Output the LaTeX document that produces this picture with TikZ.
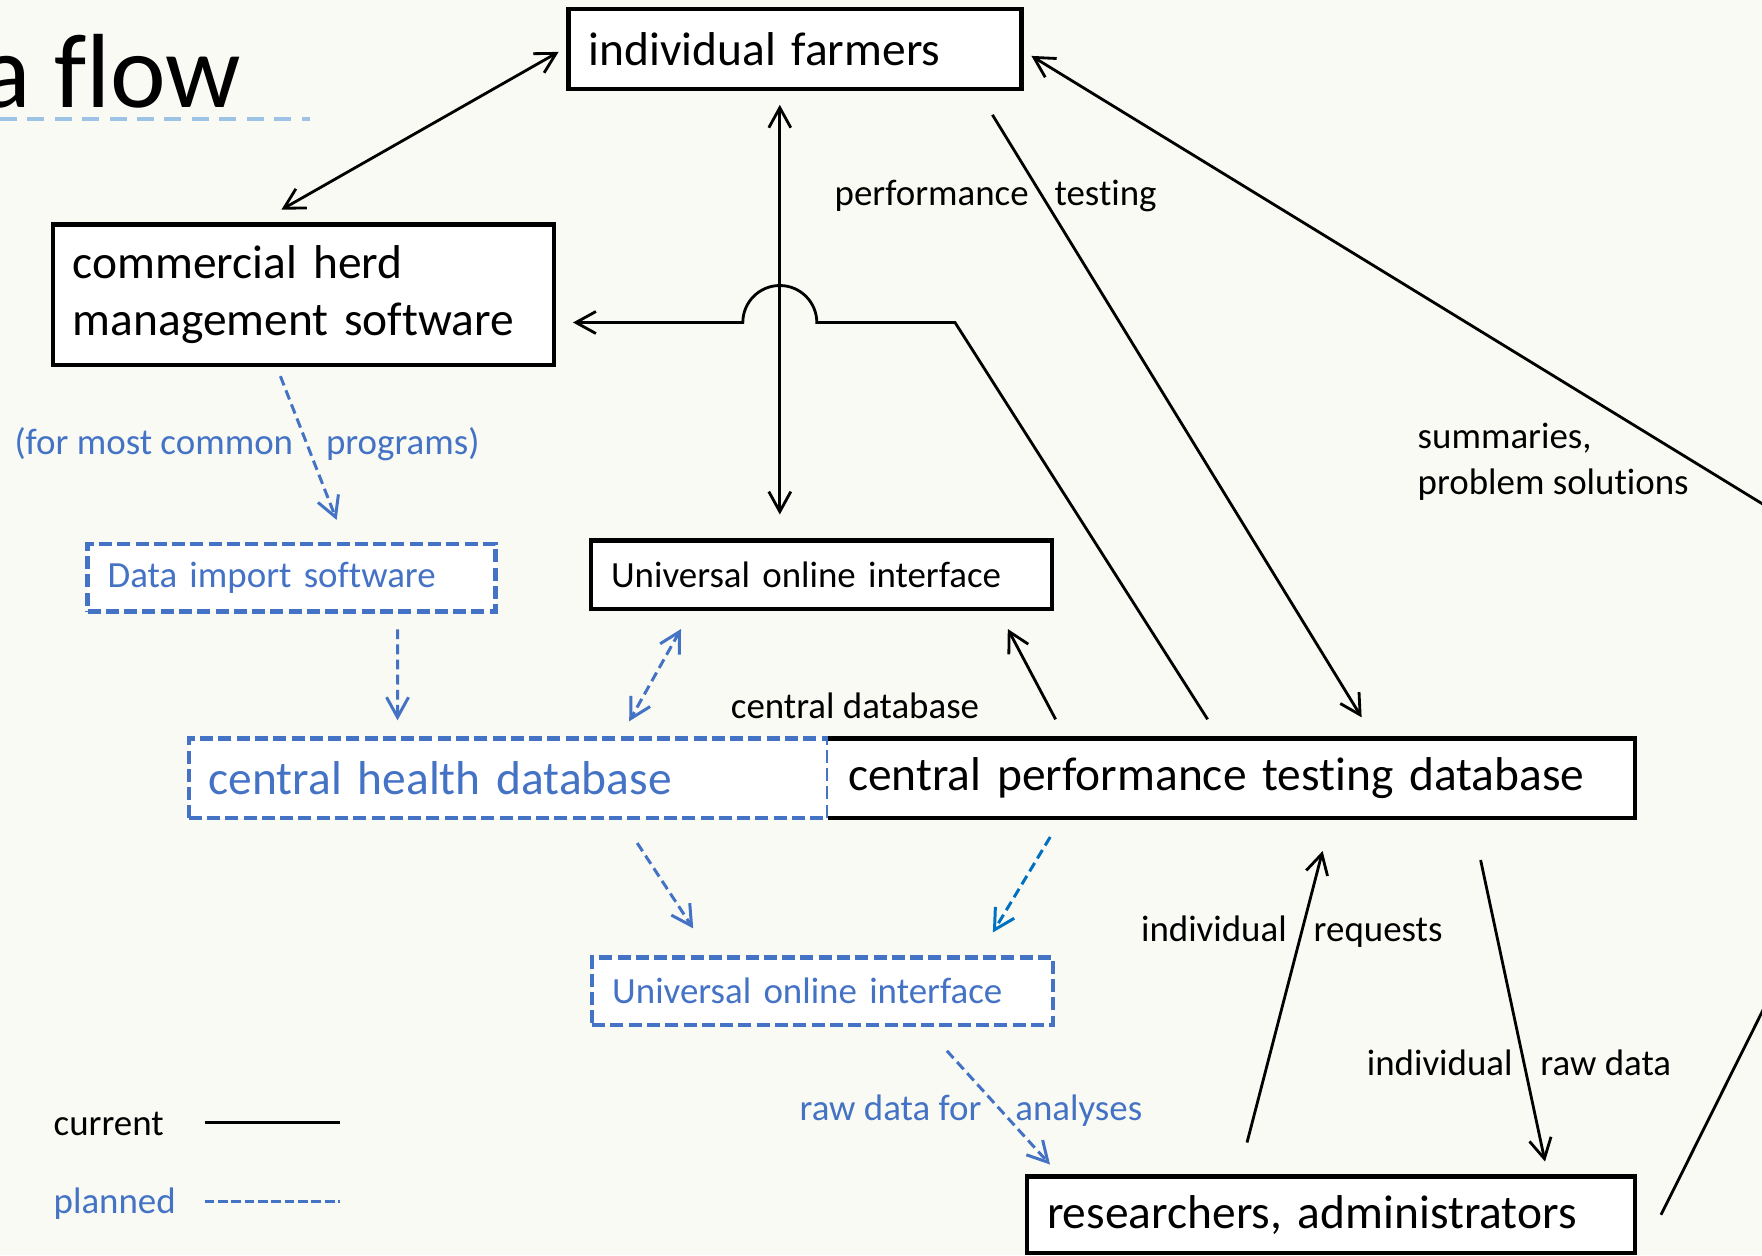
\documentclass[tikz,border=0pt]{standalone}
\usepackage{fontspec}
\setmainfont{Carlito}[Ligatures=NoCommon]
\usetikzlibrary{arrows.meta,positioning,calc}
\definecolor{slidebg}{RGB}{249,250,243}
\definecolor{planblue}{RGB}{68,114,196}
\definecolor{planblue2}{RGB}{0,112,192}
\definecolor{titleblue}{RGB}{157,195,230}
\newcommand{\bigtxt}{\fontsize{13.5}{16.2}\selectfont}
\newcommand{\smalltxt}{\fontsize{10.5}{13}\selectfont}
\newcommand{\titletxt}{\fontsize{30}{34}\selectfont}
\tikzset{
    planned color/.style={planblue},
    box/.style={draw,fill=white,line width=1.3pt,inner xsep=2mm,inner ysep=0pt,outer sep=0pt,align=left,font=\bigtxt},
    small box/.style={box,font=\smalltxt},
    planned box/.style={draw=planblue,text=planblue,dash pattern=on 3.7pt off 1.5pt},
    arr/.style={->,>={Straight Barb[length=2mm,width=2.2mm]},line width=0.8pt},
    barr/.style={<->,>={Straight Barb[length=2mm,width=2.2mm]},line width=0.8pt},
    planned/.style={planned color,line width=0.85pt,dash pattern=on 2.8pt off 1.5pt},
    lbl/.style={inner sep=0pt},
    title line/.style={titleblue,line width=1.1pt,dash pattern=on 4.8pt off 3pt},
}
\tikzstyle{every node}=[font=\smalltxt]

\begin{document}
\begin{tikzpicture}
    \useasboundingbox (0,0) rectangle (17.62,-12.55);
    \fill[slidebg] (0,0) rectangle (17.62,-12.55);
    \clip (0,0) rectangle (17.62,-12.55);

    % title
    \node[anchor=base east,inner sep=0pt,font=\titletxt] (title) at (2.42,-1.07) {a flow};
    \draw[title line] (0,-1.19) -- (3.1,-1.19);

    % boxes
    \node[box,text width=4.128cm,minimum height=0.798cm,anchor=north west] (farmers) at (5.686,-0.09) {individual farmers};
    \node[box,text width=4.612cm,minimum height=1.405cm,anchor=north west] (herd) at (0.528,-2.247) {commercial herd\\management software};
    \node[small box,planned box,text width=3.68cm,minimum height=0.674cm,anchor=north west] (import) at (0.876,-5.439) {Data import software};
    \node[small box,text width=4.208cm,minimum height=0.685cm,anchor=north west] (uoi) at (5.91,-5.405) {Universal online interface};
    \node[box,planned box,text width=5.994cm,minimum height=0.797cm,anchor=north west] (health) at (1.888,-7.383) {central health database};
    \node[box,draw=none,text width=7.668cm,minimum height=0.797cm,right=0pt of health] (perf) {central performance testing database};
    \draw[line width=1.3pt] (perf.north west) -- (perf.north east) -- (perf.south east) -- (perf.south west);
    \node[small box,planned box,text width=4.207cm,minimum height=0.674cm,anchor=north west] (uoib) at (5.922,-9.574) {Universal online interface};
    \node[box,text width=5.68cm,minimum height=0.765cm,anchor=north west] (res) at (10.27,-11.765) {researchers, administrators};

    \coordinate (hop) at ($(farmers.south)+(-0.152,-2.337)$);
    \coordinate (bend) at ($(hop)+(1.752,0)$);
    \coordinate (corner) at (19.56,-6.225);

    % current flows
    \draw[barr] ([xshift=-1mm,yshift=-0.3mm]farmers.west) -- ([xshift=-2.2mm,yshift=1.5mm]herd.north);
    \draw[barr] ($(hop |- farmers.south)+(0,-0.16)$) -- ($(hop |- uoi.north)+(0,0.26)$);
    \draw[arr] ([xshift=-2.4mm,yshift=1.9mm]perf.north) -- (bend) -- ($(hop)+(0.37,0)$)
        arc[start angle=0,end angle=180,radius=0.37] -- ($(hop -| herd.east)+(0.19,0)$);
    \draw[arr] ([xshift=-2.9mm,yshift=-2.6mm]farmers.south east) -- ([xshift=13mm,yshift=2.1mm]perf.north);
    \draw[arr] ([xshift=2.6mm]res.east) -- (corner) -- ([xshift=1mm,yshift=-0.7mm]farmers.east);
    \draw[arr] ([xshift=-17.6mm,yshift=1.9mm]perf.north) -- ([xshift=-4.4mm,yshift=-2mm]uoi.south east);
    \draw[arr] ([xshift=-8.4mm,yshift=3.4mm]res.north) -- ([xshift=9.1mm,yshift=-3.3mm]perf.south);
    \draw[arr] ([xshift=24.9mm,yshift=-4.2mm]perf.south) -- ([xshift=21.4mm,yshift=1.5mm]res.north);

    % planned flows
    \draw[arr,planned] ([xshift=-2.3mm,yshift=-1.1mm]herd.south) -- ([xshift=4.5mm,yshift=2.4mm]import.north);
    \draw[arr,planned] ([xshift=10.6mm,yshift=-1.8mm]import.south) -- ([xshift=-11.1mm,yshift=1.8mm]health.north);
    \draw[barr,planned] ([xshift=9mm,yshift=-2mm]uoi.south west) -- ([xshift=-19.9mm,yshift=1.7mm]health.north east);
    \draw[arr,planned] ([xshift=-19.1mm,yshift=-2.5mm]health.south east) -- ([xshift=10.1mm,yshift=2.9mm]uoib.north west);
    \draw[arr,planned,planblue2] ([xshift=22.2mm,yshift=-1.9mm]perf.south west) -- ([xshift=-6mm,yshift=2.5mm]uoib.north east);
    \draw[arr,planned] ([xshift=-10.6mm,yshift=-2.6mm]uoib.south east) -- ([xshift=2.3mm,yshift=1.2mm]res.north west);

    % labels
    \node[lbl] (lperf) at (9.956,-1.955) {performance\hspace{2.6mm}testing};
    \node[lbl,anchor=west,align=left] (lsum) at (14.17,-4.62) {summaries,\\problem solutions};
    \node[lbl,planned color] (lprog) at (2.47,-4.44) {(for most common\hspace{3.3mm}programs)};
    \node[lbl] (lcdb) at (8.55,-7.057) {central database};
    \node[lbl] (lreq) at (12.918,-9.315) {individual\hspace{2.7mm}requests};
    \node[lbl] (lraw) at (15.19,-10.63) {individual\hspace{2.8mm}raw data};
    \node[lbl,planned color] (lana) at (9.709,-11.11) {raw data for\hspace{3.4mm}analyses};

    % legend
    \node[lbl,anchor=west] (lcur) at (0.53,-11.24) {current};
    \node[lbl,anchor=west,planned color] (lplan) at (0.53,-12.035) {planned};
    \draw[line width=0.95pt] ($(lcur.west)+(1.515,0.015)$) -- ++(1.35,0);
    \draw[planned color,line width=0.8pt,dash pattern=on 2.8pt off 1pt] ($(lplan.west)+(1.515,0.02)$) -- ++(1.35,0);
\end{tikzpicture}
\end{document}
